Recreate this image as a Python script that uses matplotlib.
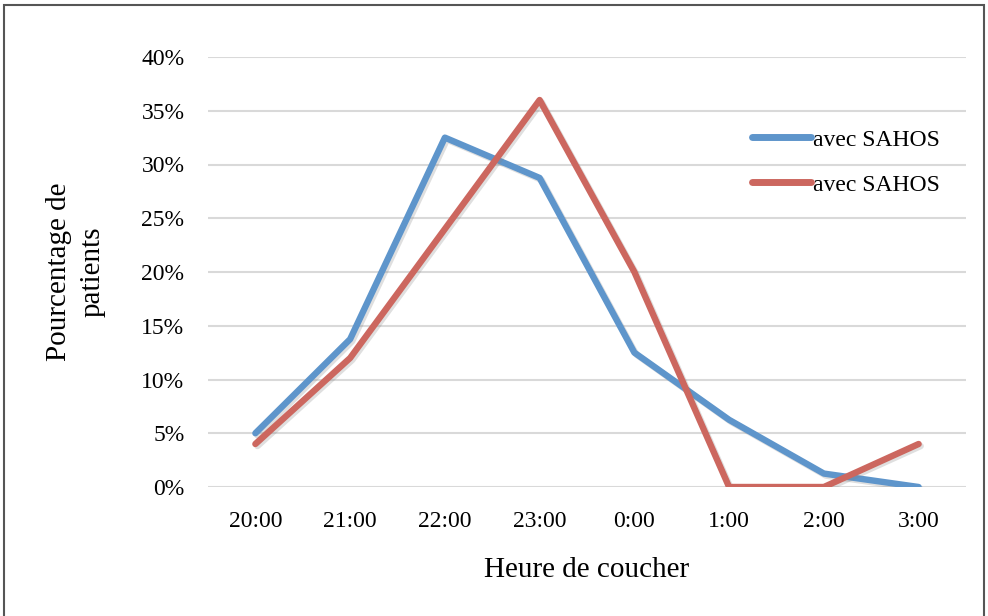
import matplotlib
matplotlib.use("Agg")
import matplotlib.pyplot as plt
import matplotlib.patheffects as pe
from matplotlib.patches import Rectangle
from matplotlib.ticker import FuncFormatter

# ===== DATA =====
hours = ['20:00', '21:00', '22:00', '23:00', '0:00', '1:00', '2:00', '3:00']
serie_bleue = [5.0, 13.75, 32.5, 28.75, 12.5, 6.25, 1.25, 0.0]
serie_rouge = [4.0, 12.0, 24.0, 36.0, 20.0, 0.0, 0.0, 4.0]
noms = ['avec SAHOS', 'avec SAHOS']
y_ticks = [0, 5, 10, 15, 20, 25, 30, 35, 40]
# ================

BLUE = '#5E95CB'
RED = '#CC675F'

plt.rcParams['font.family'] = ['Liberation Serif', 'DejaVu Serif']

fig = plt.figure(figsize=(9.88, 6.16), dpi=100)
ax = fig.add_axes([208/988, 1 - 487/616, (966 - 208)/988, (487 - 57)/616])

shadow = [pe.SimpleLineShadow(offset=(1.5, -1.5), alpha=0.25, shadow_color='gray'), pe.Normal()]
x = list(range(len(hours)))
ax.plot(x, serie_bleue, color=BLUE, lw=4.6, label=noms[0],
        solid_capstyle='round', solid_joinstyle='round', path_effects=shadow, zorder=3)
ax.plot(x, serie_rouge, color=RED, lw=4.6, label=noms[1],
        solid_capstyle='round', solid_joinstyle='round', path_effects=shadow, zorder=4)

ax.set_xlim(-0.5, len(hours) - 0.5)
ax.set_ylim(0, 40)
ax.set_yticks(y_ticks)
ax.yaxis.set_major_formatter(FuncFormatter(lambda v, p: f"{v:.0f}%"))
ax.set_xticks(x)
ax.set_xticklabels(hours)
ax.grid(axis='y', color='#D9D9D9', lw=1.5)
ax.set_axisbelow(True)
for s in ax.spines.values():
    s.set_visible(False)
ax.tick_params(axis='both', length=0, labelsize=17, colors='black')
ax.tick_params(axis='y', pad=17)
ax.tick_params(axis='x', pad=17)

ax.set_xlabel('Heure de coucher', fontsize=21, labelpad=18)
ax.set_ylabel('Pourcentage de\npatients', fontsize=21, labelpad=26, linespacing=1.35)

leg = fig.legend(loc='upper left', bbox_to_anchor=(752/988, 1 - 129/616), frameon=False,
                 fontsize=17, handlelength=2.5, handletextpad=0.1, labelspacing=1.0,
                 borderpad=0, borderaxespad=0)
for h in leg.get_lines():
    h.set_linewidth(5)
    h.set_solid_capstyle('round')
    h.set_path_effects([])

# cadre autour de la figure
fig.patches.append(Rectangle((4/988, -0.05), (984 - 4)/988, 1.05 - 5/616,
                             transform=fig.transFigure, fill=False,
                             edgecolor='#555555', lw=1.5))

fig.savefig('out.png', dpi=100)
